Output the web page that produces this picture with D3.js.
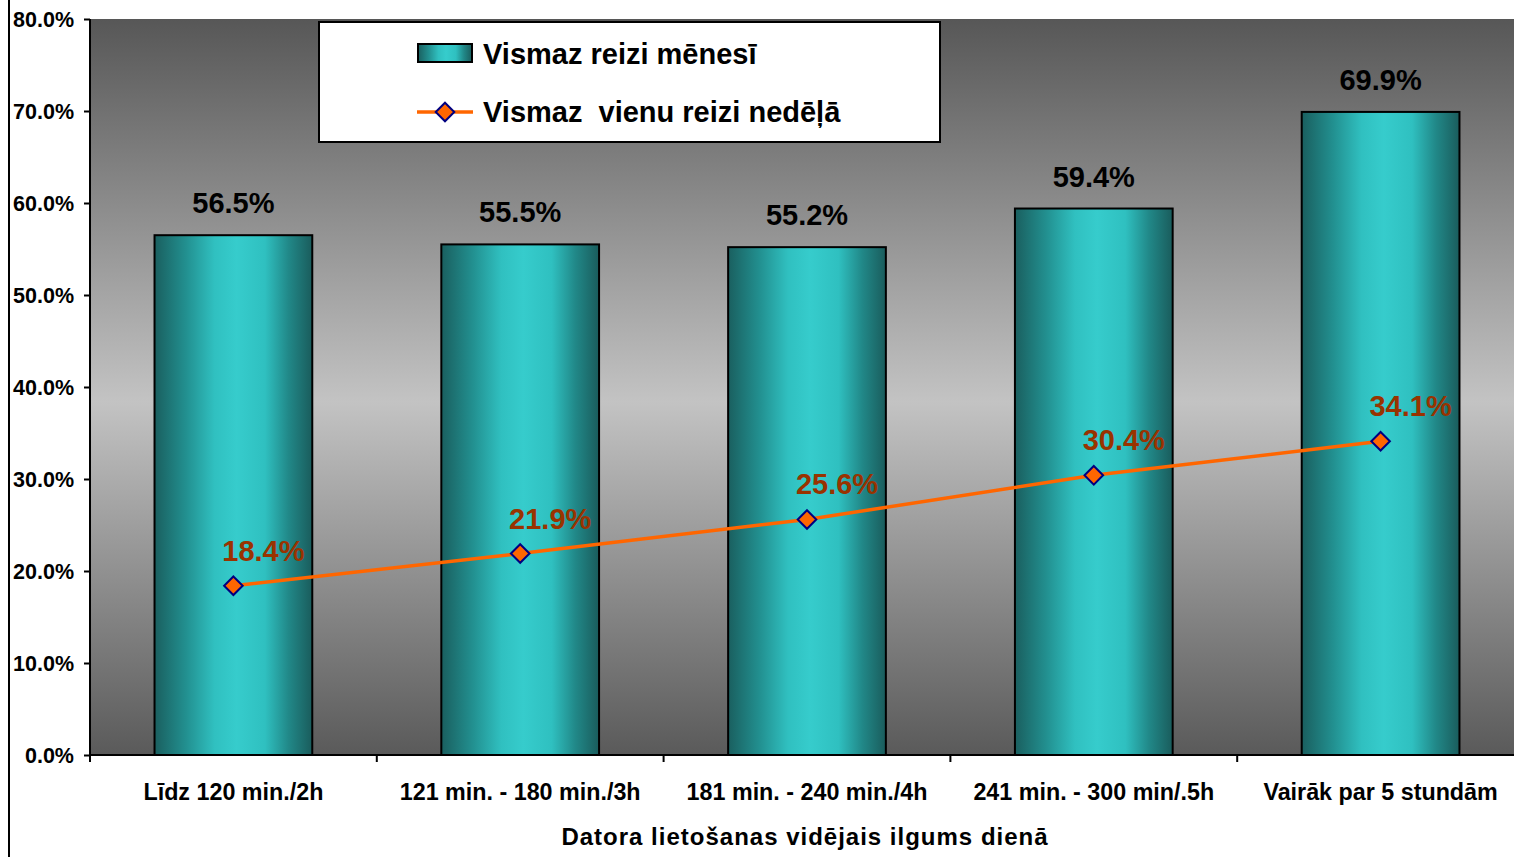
<!DOCTYPE html>
<html><head><meta charset="utf-8">
<script src="https://cdn.jsdelivr.net/npm/d3@7"></script>
<style>body{margin:0;background:#fff;overflow:hidden}svg{display:block;font-family:"Liberation Sans",Arial,sans-serif;font-weight:bold}</style>
</head><body>
<script>
const categories = ["Līdz 120 min./2h","121 min. - 180 min./3h","181 min. - 240 min./4h","241 min. - 300 min/.5h","Vairāk par 5 stundām"];
const monthly = [56.5, 55.5, 55.2, 59.4, 69.9];
const weekly = [18.4, 21.9, 25.6, 30.4, 34.1];
const yTicks = [0,10,20,30,40,50,60,70,80];
const seriesNames = ["Vismaz reizi mēnesī","Vismaz  vienu reizi nedēļā"];
const axisTitle = "Datora lietošanas vidējais ilgums dienā";

const W=1514,H=857;
const svg=d3.select("body").append("svg").attr("width",W).attr("height",H);
const defs=svg.append("defs");
const bg=defs.append("linearGradient").attr("id","bg").attr("x1",0).attr("y1",0).attr("x2",0).attr("y2",1);
bg.append("stop").attr("offset","0").attr("stop-color","#575757");
bg.append("stop").attr("offset","0.52").attr("stop-color","#c3c3c3");
bg.append("stop").attr("offset","1").attr("stop-color","#5a5a5a");
const bar=defs.append("linearGradient").attr("id","bar").attr("x1",0).attr("y1",0).attr("x2",1).attr("y2",0);
[[0,"#1a5f5f"],[0.2,"#229090"],[0.38,"#30c0c0"],[0.52,"#36cccc"],[0.7,"#2fc0c0"],[0.85,"#218888"],[1,"#1a5c5c"]].forEach(s=>bar.append("stop").attr("offset",s[0]).attr("stop-color",s[1]));

const x=d3.scaleBand().domain(categories).range([90,1524]).paddingInner(0.45).paddingOuter(0.225);
const xb=d3.scaleBand().domain(categories).range([90,1524]);
const y=d3.scaleLinear().domain([0,80]).range([755,19]);

svg.append("line").attr("x1",9).attr("x2",9).attr("y1",0).attr("y2",H).attr("stroke","#000").attr("stroke-width",2);

svg.append("rect").attr("x",90).attr("y",19).attr("width",1524-90).attr("height",755-19).attr("fill","url(#bg)");

// bars
svg.selectAll("rect.bar").data(monthly).enter().append("rect").attr("class","bar")
  .attr("x",(d,i)=>x(categories[i])).attr("width",x.bandwidth())
  .attr("y",d=>y(d)).attr("height",d=>y(0)-y(d))
  .attr("fill","url(#bar)").attr("stroke","#000").attr("stroke-width",2);
svg.selectAll("text.bl").data(monthly).enter().append("text")
  .attr("x",(d,i)=>xb(categories[i])+xb.bandwidth()/2).attr("y",d=>y(d)-22)
  .attr("text-anchor","middle").attr("font-size",29).attr("fill","#000").text(d=>d.toFixed(1)+"%");

// axes
const ya=svg.append("g").attr("transform","translate(90,0)").call(d3.axisLeft(y).tickValues(yTicks).tickSize(6).tickFormat(d=>d.toFixed(1)+"%"));
ya.select(".domain").attr("stroke","#000").attr("stroke-width",2).attr("d","M0,19V755");
ya.selectAll(".tick line").attr("stroke","#000").attr("stroke-width",2);
ya.selectAll("text").attr("font-size",21.5).attr("font-weight","bold").attr("fill","#000").attr("font-family","Liberation Sans, Arial, sans-serif").attr("x",-16).attr("dy","0.36em");

const xa=svg.append("g").attr("transform","translate(0,755)");
xa.append("line").attr("x1",90).attr("x2",1524).attr("stroke","#000").attr("stroke-width",2);
const bounds=categories.map(c=>xb(c)).concat([1524]);
xa.selectAll("line.t").data(bounds).enter().append("line").attr("x1",d=>d).attr("x2",d=>d).attr("y1",0).attr("y2",7).attr("stroke","#000").attr("stroke-width",2);
xa.selectAll("text").data(categories).enter().append("text").attr("x",d=>xb(d)+xb.bandwidth()/2).attr("y",45)
  .attr("text-anchor","middle").attr("font-size",23.3).attr("fill","#000").text(d=>d);
svg.append("text").attr("x",805).attr("y",845).attr("text-anchor","middle").attr("font-size",24).attr("letter-spacing",1).attr("fill","#000").text(axisTitle);

// line
const cx=i=>xb(categories[i])+xb.bandwidth()/2;
svg.append("path").datum(weekly).attr("fill","none").attr("stroke","#ff6600").attr("stroke-width",3.5)
  .attr("d",d3.line().x((d,i)=>cx(i)).y(d=>y(d)));
const diamond=d3.symbol().type(d3.symbolDiamond2).size(220);
svg.selectAll("path.mk").data(weekly).enter().append("path")
  .attr("transform",(d,i)=>`translate(${cx(i)},${y(d)})`).attr("d",diamond)
  .attr("fill","#ff6600").attr("stroke","#000080").attr("stroke-width",2);
svg.selectAll("text.ll").data(weekly).enter().append("text")
  .attr("x",(d,i)=>cx(i)+30).attr("y",d=>y(d)-25)
  .attr("text-anchor","middle").attr("font-size",29).attr("fill","#993300").text(d=>d.toFixed(1)+"%");

// legend
const lg=svg.append("g");
lg.append("rect").attr("x",319).attr("y",22).attr("width",621).attr("height",120).attr("fill","#fff").attr("stroke","#000").attr("stroke-width",2);
lg.append("rect").attr("x",418).attr("y",44).attr("width",54).attr("height",18).attr("fill","url(#bar)").attr("stroke","#000").attr("stroke-width",2);
lg.append("text").attr("x",483).attr("y",64).attr("font-size",29).attr("fill","#000").text(seriesNames[0]);
lg.append("line").attr("x1",417).attr("x2",473).attr("y1",112).attr("y2",112).attr("stroke","#ff6600").attr("stroke-width",3.5);
lg.append("path").attr("transform","translate(445,112)").attr("d",diamond).attr("fill","#ff6600").attr("stroke","#000080").attr("stroke-width",2);
lg.append("text").attr("x",483).attr("y",122).attr("font-size",29).attr("fill","#000").style("white-space","pre").text(seriesNames[1]);
</script>
</body></html>
